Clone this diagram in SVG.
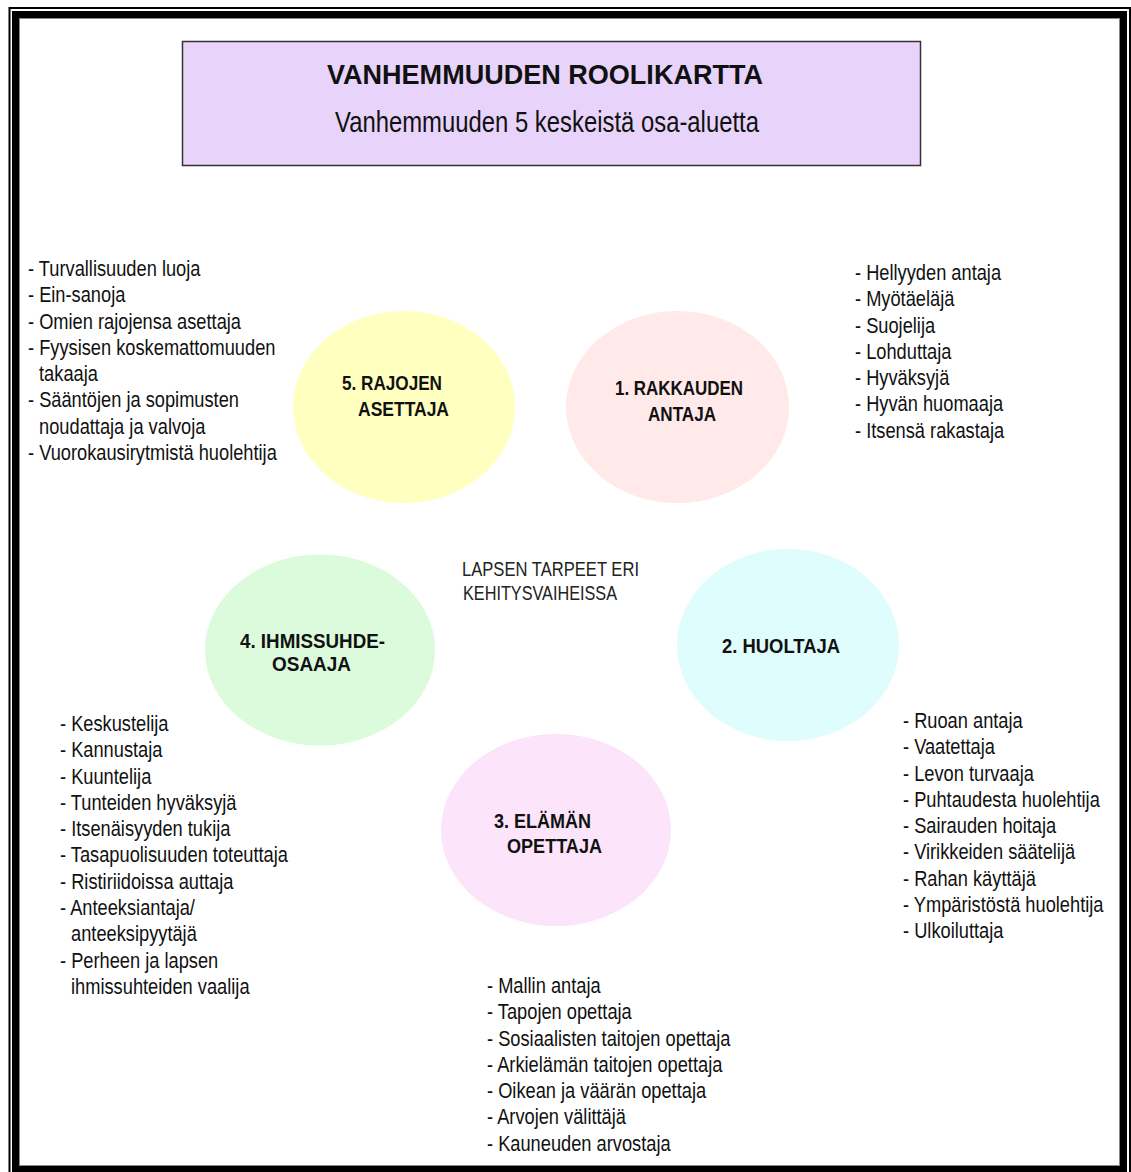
<svg xmlns="http://www.w3.org/2000/svg" width="1131" height="1172" viewBox="0 0 1131 1172">
  <style>
    .list { font-family: "Liberation Sans", Arial, sans-serif; font-size: 22px; fill: #111; }
    .lbl { font-family: "Liberation Sans", Arial, sans-serif; font-size: 21px; font-weight: bold; fill: #111; }
    .ttl { font-family: "Liberation Sans", Arial, sans-serif; fill: #111; }
    .center { font-family: "Liberation Sans", Arial, sans-serif; font-size: 19.5px; fill: #222; }
  </style>
  <rect x="0" y="0" width="1131" height="1172" fill="#ffffff"/>

  <g id="frame">
    <rect x="9.5" y="8" width="1120.5" height="1170" fill="none" stroke="#000" stroke-width="2"/>
    <rect x="15.5" y="14.5" width="1108" height="1155" fill="none" stroke="#000" stroke-width="7"/>
    <rect x="19.5" y="18.5" width="1100" height="1147" fill="none" stroke="#888" stroke-width="1"/>
  </g>

  <g id="title">
    <rect x="182.5" y="41.5" width="738" height="124" fill="#E8D4FB" stroke="#333" stroke-width="1.5"/>
    <text class="ttl" x="327" y="83.5" font-size="28" font-weight="bold" textLength="436" lengthAdjust="spacingAndGlyphs">VANHEMMUUDEN ROOLIKARTTA</text>
    <text class="ttl" x="335" y="132" font-size="29" textLength="424" lengthAdjust="spacingAndGlyphs">Vanhemmuuden 5 keskeistä osa-aluetta</text>
  </g>

  <g id="connectors"/>

  <g id="node5">
    <ellipse cx="404" cy="407" rx="111" ry="96" fill="#FFFFC0"/>
    <text class="lbl" x="342" y="390" textLength="100" lengthAdjust="spacingAndGlyphs">5. RAJOJEN</text>
    <text class="lbl" x="358" y="416" textLength="91" lengthAdjust="spacingAndGlyphs">ASETTAJA</text>
  </g>

  <g id="node1">
    <ellipse cx="677.5" cy="407" rx="111.5" ry="96" fill="#FFE9E9"/>
    <text class="lbl" x="615" y="395" textLength="128" lengthAdjust="spacingAndGlyphs">1. RAKKAUDEN</text>
    <text class="lbl" x="648" y="421" textLength="68" lengthAdjust="spacingAndGlyphs">ANTAJA</text>
  </g>

  <g id="node4">
    <ellipse cx="320" cy="650" rx="115" ry="95.5" fill="#DCFADC"/>
    <text class="lbl" x="240" y="648" textLength="145" lengthAdjust="spacingAndGlyphs">4. IHMISSUHDE-</text>
    <text class="lbl" x="272" y="671" textLength="79" lengthAdjust="spacingAndGlyphs">OSAAJA</text>
  </g>

  <g id="node2">
    <ellipse cx="788" cy="645" rx="111" ry="96" fill="#DFFDFD"/>
    <text class="lbl" x="722" y="653" textLength="118" lengthAdjust="spacingAndGlyphs">2. HUOLTAJA</text>
  </g>

  <g id="node3">
    <ellipse cx="556" cy="830" rx="115" ry="96" fill="#FCE4FA"/>
    <text class="lbl" x="494" y="828" textLength="97" lengthAdjust="spacingAndGlyphs">3. ELÄMÄN</text>
    <text class="lbl" x="507" y="853" textLength="95" lengthAdjust="spacingAndGlyphs">OPETTAJA</text>
  </g>

  <g id="center-label">
    <text class="center" x="462" y="576" textLength="177" lengthAdjust="spacingAndGlyphs">LAPSEN TARPEET ERI</text>
    <text class="center" x="463" y="600" textLength="154" lengthAdjust="spacingAndGlyphs">KEHITYSVAIHEISSA</text>
  </g>

  <g id="list5" class="list" transform="translate(28,276) scale(0.83,1)">
    <text x="0" y="0">- Turvallisuuden luoja</text>
    <text x="0" y="26.3">- Ein-sanoja</text>
    <text x="0" y="52.6">- Omien rajojensa asettaja</text>
    <text x="0" y="78.9">- Fyysisen koskemattomuuden</text>
    <text x="13.3" y="105.2">takaaja</text>
    <text x="0" y="131.5">- Sääntöjen ja sopimusten</text>
    <text x="13.3" y="157.8">noudattaja ja valvoja</text>
    <text x="0" y="184.1">- Vuorokausirytmistä huolehtija</text>
  </g>

  <g id="list1" class="list" transform="translate(855,280) scale(0.83,1)">
    <text x="0" y="0">- Hellyyden antaja</text>
    <text x="0" y="26.3">- Myötäeläjä</text>
    <text x="0" y="52.6">- Suojelija</text>
    <text x="0" y="78.9">- Lohduttaja</text>
    <text x="0" y="105.2">- Hyväksyjä</text>
    <text x="0" y="131.5">- Hyvän huomaaja</text>
    <text x="0" y="157.8">- Itsensä rakastaja</text>
  </g>

  <g id="list2" class="list" transform="translate(903,728) scale(0.83,1)">
    <text x="0" y="0">- Ruoan antaja</text>
    <text x="0" y="26.3">- Vaatettaja</text>
    <text x="0" y="52.6">- Levon turvaaja</text>
    <text x="0" y="78.9">- Puhtaudesta huolehtija</text>
    <text x="0" y="105.2">- Sairauden hoitaja</text>
    <text x="0" y="131.5">- Virikkeiden säätelijä</text>
    <text x="0" y="157.8">- Rahan käyttäjä</text>
    <text x="0" y="184.1">- Ympäristöstä huolehtija</text>
    <text x="0" y="210.4">- Ulkoiluttaja</text>
  </g>

  <g id="list4" class="list" transform="translate(60,731) scale(0.83,1)">
    <text x="0" y="0">- Keskustelija</text>
    <text x="0" y="26.3">- Kannustaja</text>
    <text x="0" y="52.6">- Kuuntelija</text>
    <text x="0" y="78.9">- Tunteiden hyväksyjä</text>
    <text x="0" y="105.2">- Itsenäisyyden tukija</text>
    <text x="0" y="131.5">- Tasapuolisuuden toteuttaja</text>
    <text x="0" y="157.8">- Ristiriidoissa auttaja</text>
    <text x="0" y="184.1">- Anteeksiantaja/</text>
    <text x="13.3" y="210.4">anteeksipyytäjä</text>
    <text x="0" y="236.7">- Perheen ja lapsen</text>
    <text x="13.3" y="263">ihmissuhteiden vaalija</text>
  </g>

  <g id="list3" class="list" transform="translate(487,993) scale(0.83,1)">
    <text x="0" y="0">- Mallin antaja</text>
    <text x="0" y="26.3">- Tapojen opettaja</text>
    <text x="0" y="52.6">- Sosiaalisten taitojen opettaja</text>
    <text x="0" y="78.9">- Arkielämän taitojen opettaja</text>
    <text x="0" y="105.2">- Oikean ja väärän opettaja</text>
    <text x="0" y="131.5">- Arvojen välittäjä</text>
    <text x="0" y="157.8">- Kauneuden arvostaja</text>
  </g>
</svg>
